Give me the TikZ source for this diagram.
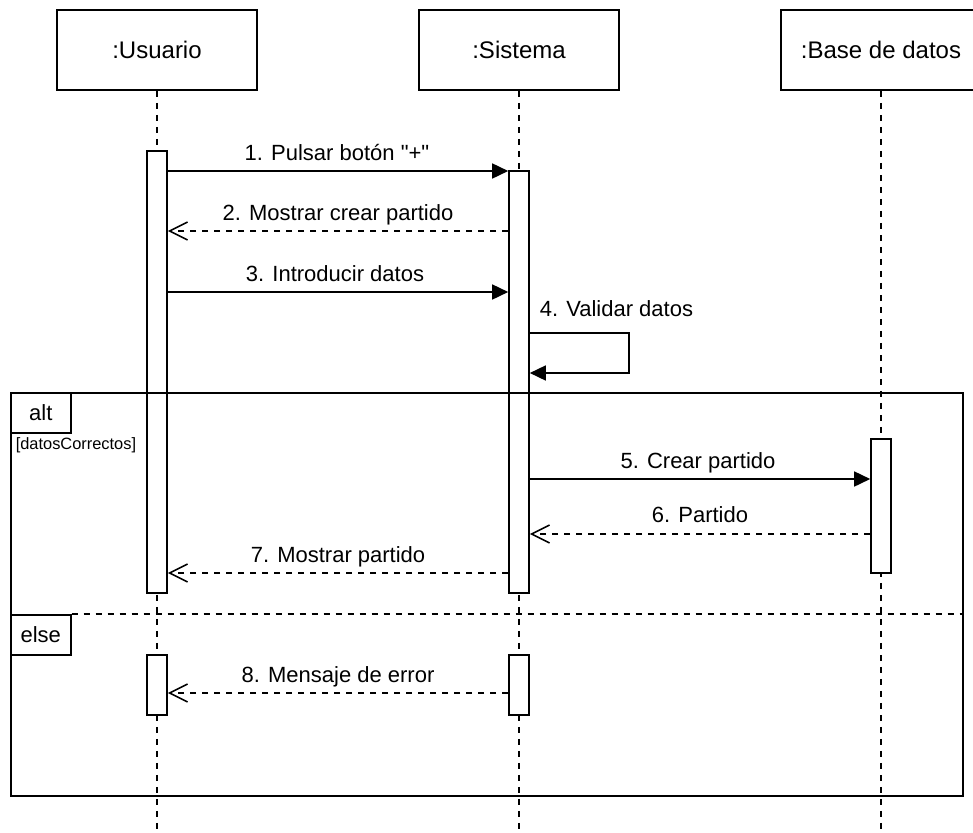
\documentclass[tikz,border=0pt]{standalone}
\usepackage{fontspec}
\setmainfont{Liberation Sans}[Ligatures=TeXOff]
\usetikzlibrary{arrows.meta}
\newcommand\msgsize{\fontsize{22}{26}\selectfont}
\newcommand\headsize{\fontsize{24}{28}\selectfont}
\newcommand\guardsize{\fontsize{16.4}{19}\selectfont}
\begin{document}
\begin{tikzpicture}[x=1pt,y=-1pt,line width=1.6pt,
  head/.style={draw,fill=white,minimum width=200pt,minimum height=80pt,inner sep=0pt,font=\headsize},
  act/.style={draw,fill=white,minimum width=20pt,inner sep=0pt},
  life/.style={dash pattern=on 6pt off 6pt},
  call/.style={-{Triangle[length=16pt,width=15pt]}},
  reply/.style={dash pattern=on 6pt off 6pt,-{Straight Barb[length=18pt,width=18pt]}},
  msg/.style={anchor=base,font=\msgsize,inner sep=0pt},
  tab/.style={draw,fill=white,minimum width=60pt,minimum height=40pt,anchor=north west,inner sep=0pt,font=\msgsize}]
\useasboundingbox (0,0) rectangle (973,832);
\clip (0,0) rectangle (973,832);
\coordinate (bot) at (0,832);

% lifeline heads (the last one runs past the right edge)
\node[head] (hu) at (157,50) {:Usuario};
\node[head] (hs) at (519,50) {:Sistema};
\node[head] (hb) at (881,50) {:Base de datos};

% lifelines
\draw[life] (hu.south) -- (hu.south |- bot);
\draw[life] (hs.south) -- (hs.south |- bot);
\draw[life] (hb.south) -- (hb.south |- bot);

% activation bars
\node[act,minimum height=442pt] (ua) at (157,372) {};
\node[act,minimum height=422pt] (sa) at (519,382) {};
\node[act,minimum height=134pt] (ba) at (881,506) {};
\node[act,minimum height=60pt] (ue) at (157,685) {};
\node[act,minimum height=60pt] (se) at (519,685) {};

% combined fragment
\node[draw,inner sep=0pt,minimum width=952pt,minimum height=403pt,anchor=north west] (fr) at (10,392) {};
\node[tab] (alt) at (fr.north west) {alt};
\node[anchor=base west,font=\guardsize,inner sep=0pt] (guard) at (15,449) {[datosCorrectos]};
\node[tab] (els) at (fr.west |- 0,614) {else};
\draw[life] (els.north east) -- (fr.east |- els.north);

% messages
\draw[call] (ua.east |- 0,171) -- (sa.west |- 0,171);
\node[msg] (l1) at (337,160.5) {1. Pulsar botón "+"};
\draw[reply] (sa.west |- 0,231) -- (ua.east |- 0,231);
\node[msg] (l2) at (338,220.5) {2. Mostrar crear partido};
\draw[call] (ua.east |- 0,292) -- (sa.west |- 0,292);
\node[msg] (l3) at (335,281.5) {3. Introducir datos};
\draw[call] (sa.east |- 0,333) -- (629,333) -- (629,373) -- (sa.east |- 0,373);
\node[msg,anchor=base west] (l4) at (539,316) {4. Validar datos};
\draw[call] (sa.east |- 0,479) -- (ba.west |- 0,479);
\node[msg] (l5) at (698,468.5) {5. Crear partido};
\draw[reply] (ba.west |- 0,534) -- (sa.east |- 0,534);
\node[msg] (l6) at (700,522.5) {6. Partido};
\draw[reply] (sa.west |- 0,573) -- (ua.east |- 0,573);
\node[msg] (l7) at (338,562.5) {7. Mostrar partido};
\draw[reply] (se.west |- 0,693) -- (ue.east |- 0,693);
\node[msg] (l8) at (338,682.5) {8. Mensaje de error};
\end{tikzpicture}
\end{document}
